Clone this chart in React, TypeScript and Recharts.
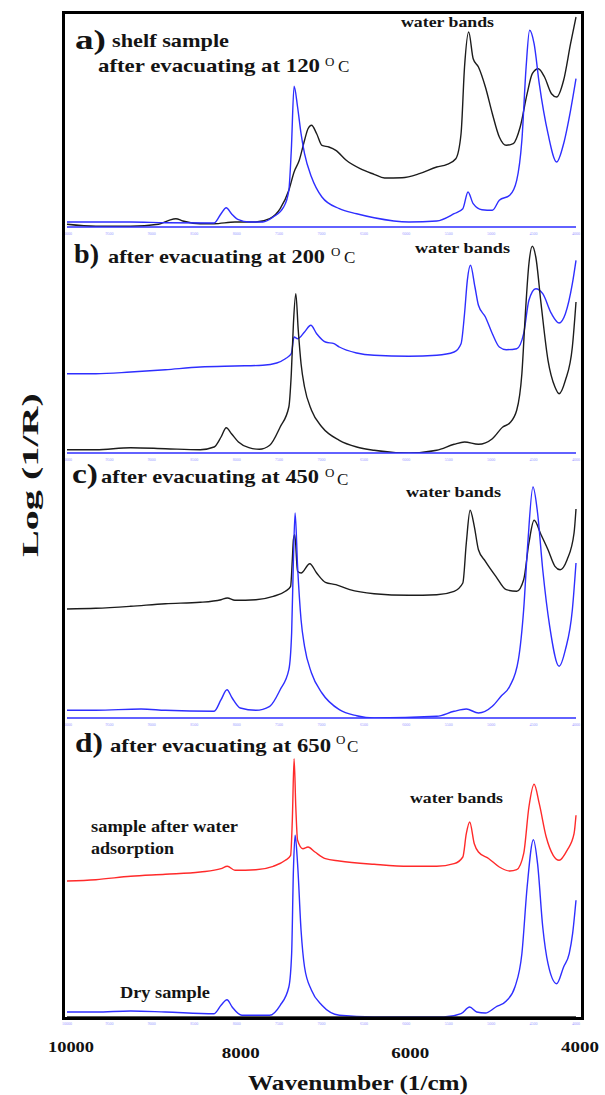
import { LineChart, Line, XAxis, YAxis } from "recharts";

const panelTicks = [10000, 9500, 9000, 8500, 8000, 7500, 7000, 6500, 6000, 5500, 5000, 4500, 4000];
const labelTicks = [10000, 8000, 6000, 4000];

// a) shelf sample, after evacuating at 120 C  [wavenumber, log(1/R) arb.]
const shelfBlue = [
  [10000, 5], [9250, 5], [8840, 4.3], [8266, 4], [8184, 13.3], [8123, 19.3], [8061, 13.3], [7979, 7.3],
  [7856, 5], [7692, 5], [7569, 10], [7446, 20], [7385, 36.7], [7356, 76.7], [7323, 140.7], [7282, 120],
  [7241, 93.3], [7200, 73.3], [7118, 50], [6995, 30], [6790, 18.3], [6585, 13.3], [6380, 9.3], [5970, 5],
  [5642, 6], [5437, 13.3], [5334, 18.3], [5273, 35], [5212, 23.3], [5109, 17.3], [4986, 16.7], [4904, 26.7],
  [4781, 31.7], [4699, 46.7], [4638, 86.7], [4588, 160], [4547, 196.7], [4494, 183.3], [4433, 143.3],
  [4330, 93.3], [4228, 65], [4146, 83.3], [4064, 116.7], [4000, 148.3],
];
const shelfBlack = [
  [10000, 2.7], [9660, 0.7], [9250, 0.7], [8922, 2.7], [8799, 6.7], [8717, 8.3], [8635, 6], [8430, 3.3],
  [8266, 3.3], [8020, 5], [7774, 5], [7610, 8.3], [7487, 18.3], [7385, 36.7], [7323, 55], [7262, 66.7],
  [7200, 86.7], [7159, 98.3], [7118, 101.7], [7057, 93.3], [6995, 81.7], [6913, 80], [6831, 76.7],
  [6708, 66.7], [6544, 58.3], [6380, 52.7], [6257, 49], [6052, 49.3], [5847, 53.3], [5642, 60], [5519, 62.7],
  [5417, 68.3], [5355, 93.3], [5314, 160], [5265, 195], [5212, 168.3], [5150, 160], [5068, 140], [4986, 113.3],
  [4904, 90], [4822, 81.7], [4740, 83.3], [4658, 100], [4576, 133.3], [4515, 153.3], [4445, 158.3],
  [4371, 150], [4289, 133.3], [4228, 130], [4146, 146.7], [4064, 183.3], [4000, 210],
];

// b) after evacuating at 200 C
const evac200Blue = [
  [10000, 79.3], [9660, 79.3], [9250, 81], [8840, 83.3], [8430, 86], [8020, 87], [7692, 87.7], [7528, 90],
  [7426, 94.3], [7356, 99.3], [7323, 116], [7282, 114.3], [7200, 121], [7126, 127.7], [7057, 119.3],
  [6954, 111], [6852, 109.3], [6790, 106], [6585, 100], [6380, 97.7], [5970, 96.7], [5642, 97.7], [5437, 101],
  [5355, 109.3], [5314, 139.3], [5281, 172.7], [5244, 187.7], [5191, 166], [5150, 147.7], [5068, 136],
  [4986, 119.3], [4904, 106], [4822, 103.3], [4699, 104.3], [4617, 119.3], [4555, 152.7], [4474, 164.3],
  [4392, 159.3], [4289, 139.3], [4199, 130], [4125, 139.3], [4043, 169.3], [4000, 192.7],
];
const evac200Black = [
  [10000, 3.3], [9660, 3.3], [9250, 5.3], [8840, 4.3], [8430, 3.3], [8266, 6], [8184, 16], [8123, 25.3],
  [8061, 19.3], [7979, 11], [7856, 5.3], [7733, 3.7], [7610, 7.7], [7487, 26], [7385, 46], [7356, 79.3],
  [7331, 129.3], [7303, 159.3], [7274, 122.7], [7241, 89.3], [7200, 66], [7118, 42.7], [6995, 26],
  [6790, 12.7], [6585, 6], [6380, 2.7], [5970, 0], [5642, 2.7], [5437, 8.7], [5314, 11], [5150, 8.7],
  [4986, 14.3], [4863, 26], [4781, 30], [4699, 42.7], [4638, 79.3], [4597, 139.3], [4555, 189.3],
  [4515, 206.7], [4474, 196], [4412, 149.3], [4330, 92.7], [4248, 66], [4199, 59.3], [4125, 72.7],
  [4043, 106], [4000, 151],
];

// c) after evacuating at 450 C
const evac450Black = [
  [10000, 109], [9660, 109.7], [9250, 111.7], [8840, 114.3], [8430, 115.7], [8184, 118.3], [8110, 120],
  [8020, 117.7], [7774, 118.3], [7569, 121.7], [7426, 126.7], [7364, 131.7], [7344, 158.3], [7331, 178.3],
  [7315, 183.3], [7282, 146.7], [7241, 145], [7138, 154.3], [7057, 145], [6954, 135.7], [6831, 133.3],
  [6667, 128.3], [6380, 124.3], [5970, 122.7], [5642, 123.3], [5437, 126.7], [5334, 135], [5293, 175],
  [5248, 207.7], [5199, 191.7], [5150, 168.3], [5068, 156.7], [4945, 141.7], [4822, 128.3], [4699, 126.7],
  [4617, 138.3], [4555, 175], [4494, 197.7], [4412, 183.3], [4330, 168.3], [4248, 151.7], [4187, 148.3],
  [4105, 158.3], [4023, 185], [4000, 209],
];
const evac450Blue = [
  [10000, 7.7], [9660, 7.7], [9127, 9], [8840, 7.7], [8266, 6.7], [8184, 18.3], [8114, 28.3], [8053, 20],
  [7958, 10], [7774, 7.7], [7610, 11.7], [7487, 28.3], [7385, 48.3], [7352, 85], [7331, 158.3], [7311, 205],
  [7282, 151.7], [7241, 98.3], [7200, 71.7], [7118, 45], [6995, 25], [6790, 8.3], [6585, 2.3], [6380, 0],
  [5642, 1.7], [5437, 6.7], [5293, 9], [5150, 5], [4986, 11.7], [4884, 21.7], [4781, 31.7], [4679, 58.3],
  [4617, 108.3], [4568, 175], [4507, 231], [4453, 205], [4392, 148.3], [4310, 91.7], [4199, 51.7],
  [4125, 68.3], [4043, 108.3], [4000, 155],
];

// d) after evacuating at 650 C
const wetRed = [
  [10000, 136], [9660, 137.3], [9250, 140.7], [8840, 142.7], [8430, 145], [8184, 148.3], [8110, 150.7],
  [8020, 146.7], [7774, 147.3], [7569, 150.7], [7426, 156.7], [7364, 161.7], [7344, 196.7], [7323, 258.3],
  [7303, 210], [7282, 176.7], [7220, 168.3], [7159, 170], [7077, 165], [6954, 158.3], [6790, 156],
  [6380, 152.7], [5970, 150.7], [5642, 150.7], [5437, 153.3], [5334, 160], [5293, 183.3], [5253, 195],
  [5199, 173.3], [5150, 165], [5027, 158.3], [4904, 150], [4781, 146], [4699, 147.3], [4617, 163.3],
  [4555, 210], [4494, 232.7], [4433, 213.3], [4351, 180], [4269, 161.7], [4199, 156.7], [4105, 166.7],
  [4023, 183.3], [4000, 201.7],
];
const dryBlue = [
  [10000, 5], [9660, 5], [9250, 6], [8840, 5], [8266, 3.3], [8184, 11.7], [8114, 17.3], [8053, 10],
  [7938, 1.7], [7610, 1.7], [7487, 11.7], [7385, 30], [7352, 63.3], [7331, 146.7], [7311, 181.7],
  [7282, 153.3], [7241, 86.7], [7200, 50], [7118, 26.7], [6995, 11.7], [6790, 1.7], [6380, 0], [5560, 0],
  [5355, 3.3], [5253, 10], [5171, 5], [5068, 4], [4945, 10], [4822, 16], [4720, 30], [4638, 63.3],
  [4576, 130], [4502, 177.3], [4453, 153.3], [4392, 90], [4330, 53.3], [4228, 33.3], [4146, 50],
  [4080, 63.3], [4040, 83.3], [4000, 116.7],
];

const BLUE = "#2e2eff";
const BLACK = "#1c1c1c";
const RED = "#ff2a2a";
const FONT = "'Liberation Serif', 'DejaVu Serif', serif";

const PLOT_LEFT = 67;
const PLOT_W = 509;
const SIDE = 30;

const toRows = (pts: number[][]) => pts.map(([wn, v]) => ({ wn, v }));

const TinyTick = (props: any) => {
  const { x, y, payload } = props;
  return (
    <text x={x} y={y + 6} textAnchor="middle" fontSize={4} fill="#9d9dff" fontFamily={FONT}>
      {payload.value}
    </text>
  );
};

const BottomTick = (props: any) => {
  const { x, y, payload } = props;
  const v = payload.value;
  const big = labelTicks.includes(v);
  const dy = v === 10000 || v === 4000 ? 33 : 39;
  return (
    <g>
      <text x={x} y={y + 6} textAnchor="middle" fontSize={4} fill="#9d9dff" fontFamily={FONT}>
        {v}
      </text>
      {big && (
        <text
          x={x + 4}
          y={y + dy}
          textAnchor="middle"
          fontSize={15}
          fontWeight="bold"
          fill="#111"
          fontFamily={FONT}
          textLength={v === 10000 ? 46 : 38}
          lengthAdjust="spacingAndGlyphs"
        >
          {v}
        </text>
      )}
    </g>
  );
};

type Series = { pts: number[][]; color: string };

function Panel({ top, height, axisHeight, series, axisColor, tick }: {
  top: number; height: number; axisHeight: number; series: Series[]; axisColor: string; tick: any;
}) {
  return (
    <div style={{ position: "absolute", left: PLOT_LEFT - SIDE, top }}>
      <LineChart
        width={PLOT_W + 2 * SIDE}
        height={height + axisHeight}
        margin={{ top: 0, right: SIDE, bottom: 0, left: SIDE }}
      >
        <XAxis
          dataKey="wn"
          type="number"
          domain={[4000, 10000]}
          reversed
          ticks={panelTicks}
          interval={0}
          stroke={axisColor}
          strokeWidth={1.5}
          tickLine={false}
          tickSize={0}
          tick={tick}
          height={axisHeight}
        />
        <YAxis hide type="number" domain={[0, height]} allowDataOverflow />
        {series.map((s, i) => (
          <Line
            key={i}
            data={toRows(s.pts)}
            dataKey="v"
            stroke={s.color}
            strokeWidth={1.4}
            dot={false}
            activeDot={false}
            type="monotone"
            isAnimationActive={false}
          />
        ))}
      </LineChart>
    </div>
  );
}

const t = { fontFamily: FONT, fontWeight: "bold" as const, fill: "#141414" };

export default function App() {
  return (
    <div style={{ position: "absolute", left: 0, top: 0, width: 605, height: 1095, background: "#fff" }}>
      <Panel top={13} height={214} axisHeight={10} axisColor={BLUE} tick={<TinyTick />}
        series={[{ pts: shelfBlack, color: BLACK }, { pts: shelfBlue, color: BLUE }]} />
      <Panel top={227} height={226} axisHeight={10} axisColor={BLUE} tick={<TinyTick />}
        series={[{ pts: evac200Blue, color: BLUE }, { pts: evac200Black, color: BLACK }]} />
      <Panel top={453} height={265} axisHeight={10} axisColor={BLUE} tick={<TinyTick />}
        series={[{ pts: evac450Black, color: BLACK }, { pts: evac450Blue, color: BLUE }]} />
      <Panel top={718} height={299} axisHeight={78} axisColor={BLACK} tick={<BottomTick />}
        series={[{ pts: wetRed, color: RED }, { pts: dryBlue, color: BLUE }]} />

      <div style={{ position: "absolute", left: 62, top: 11, width: 522, height: 1009, border: "3px solid #000", boxSizing: "border-box" }} />

      <svg width={605} height={1095} style={{ position: "absolute", left: 0, top: 0, pointerEvents: "none" }}>
        {/* a */}
        <text x={75} y={49} fontSize={27} {...t} textLength={31} lengthAdjust="spacingAndGlyphs">a)</text>
        <text x={112} y={47} fontSize={19} {...t} textLength={117} lengthAdjust="spacingAndGlyphs">shelf sample</text>
        <text x={98} y={72} fontSize={19} {...t} textLength={222} lengthAdjust="spacingAndGlyphs">after evacuating at 120</text>
        <text x={325} y={66} fontSize={13} {...t} fontWeight="normal">O</text>
        <text x={338} y={72} fontSize={17} {...t} fontWeight="normal">C</text>
        <text x={401} y={27} fontSize={14} {...t} textLength={93} lengthAdjust="spacingAndGlyphs">water bands</text>
        {/* b */}
        <text x={74} y={263} fontSize={27} {...t} textLength={25} lengthAdjust="spacingAndGlyphs">b)</text>
        <text x={108} y={263} fontSize={19} {...t} textLength={217} lengthAdjust="spacingAndGlyphs">after evacuating at 200</text>
        <text x={331} y={256} fontSize={13} {...t} fontWeight="normal">O</text>
        <text x={344} y={263} fontSize={17} {...t} fontWeight="normal">C</text>
        <text x={415} y={253} fontSize={14} {...t} textLength={95} lengthAdjust="spacingAndGlyphs">water bands</text>
        {/* c */}
        <text x={72} y={483} fontSize={27} {...t} textLength={26} lengthAdjust="spacingAndGlyphs">c)</text>
        <text x={101} y={483} fontSize={19} {...t} textLength={218} lengthAdjust="spacingAndGlyphs">after evacuating at 450</text>
        <text x={325} y={477} fontSize={13} {...t} fontWeight="normal">O</text>
        <text x={337} y={485} fontSize={17} {...t} fontWeight="normal">C</text>
        <text x={406} y={497} fontSize={14} {...t} textLength={95} lengthAdjust="spacingAndGlyphs">water bands</text>
        {/* d */}
        <text x={75} y={752} fontSize={27} {...t} textLength={28} lengthAdjust="spacingAndGlyphs">d)</text>
        <text x={110} y={752} fontSize={19} {...t} textLength={221} lengthAdjust="spacingAndGlyphs">after evacuating at 650</text>
        <text x={336} y={744} fontSize={13} {...t} fontWeight="normal">O</text>
        <text x={347} y={752} fontSize={17} {...t} fontWeight="normal">C</text>
        <text x={410} y={803} fontSize={15} {...t} textLength={93} lengthAdjust="spacingAndGlyphs">water bands</text>
        <text x={91} y={832} fontSize={16} {...t} textLength={147} lengthAdjust="spacingAndGlyphs">sample after water</text>
        <text x={91} y={854} fontSize={16} {...t} textLength={83} lengthAdjust="spacingAndGlyphs">adsorption</text>
        <text x={120} y={998} fontSize={17} {...t} textLength={90} lengthAdjust="spacingAndGlyphs">Dry sample</text>
        {/* axis titles */}
        <text x={358} y={1090} fontSize={22} {...t} textAnchor="middle" textLength={220} lengthAdjust="spacingAndGlyphs">Wavenumber (1/cm)</text>
        <text transform="translate(38 475) rotate(-90)" x={0} y={0} fontSize={24} {...t} textAnchor="middle" textLength={164} lengthAdjust="spacingAndGlyphs">Log (1/R)</text>
      </svg>
    </div>
  );
}
